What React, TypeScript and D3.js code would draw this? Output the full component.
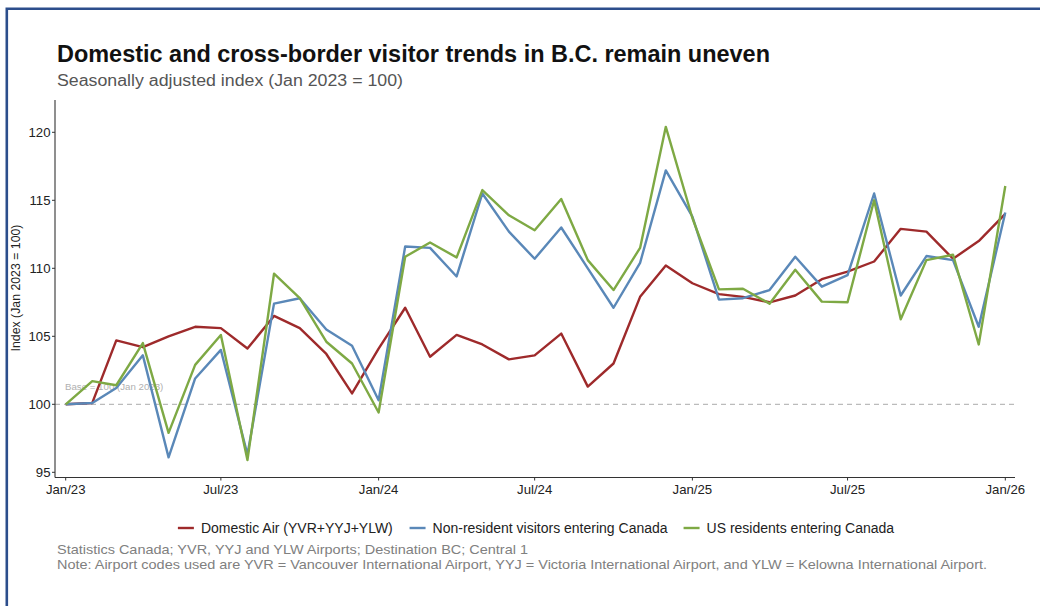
import React from "react";
import * as d3 from "d3";

const months: string[] = [
  "2023-01","2023-02","2023-03","2023-04","2023-05","2023-06","2023-07","2023-08","2023-09","2023-10","2023-11","2023-12",
  "2024-01","2024-02","2024-03","2024-04","2024-05","2024-06","2024-07","2024-08","2024-09","2024-10","2024-11","2024-12",
  "2025-01","2025-02","2025-03","2025-04","2025-05","2025-06","2025-07","2025-08","2025-09","2025-10","2025-11","2025-12",
  "2026-01",
];

const domesticAir: number[] = [
  100, 100.1, 104.7, 104.2, 105.0, 105.7, 105.6, 104.1, 106.5, 105.6, 103.7, 100.8,
  104.1, 107.1, 103.5, 105.1, 104.4, 103.3, 103.6, 105.2, 101.3, 103.0, 107.9, 110.2,
  108.9, 108.1, 107.9, 107.5, 108.0, 109.2, 109.75, 110.5, 112.9, 112.7, 110.7, 112.0,
  114.0,
];

const nonResident: number[] = [
  100, 100.1, 101.2, 103.6, 96.1, 101.9, 104.0, 96.3, 107.4, 107.8, 105.5, 104.3,
  100.3, 111.6, 111.5, 109.4, 115.5, 112.7, 110.7, 113.0, 110.0, 107.1, 110.4, 117.2,
  113.8, 107.7, 107.8, 108.4, 110.85, 108.65, 109.5, 115.5, 108.0, 110.9, 110.6, 105.7,
  114.1,
];

const usResidents: number[] = [
  100, 101.7, 101.4, 104.5, 97.9, 102.9, 105.1, 95.9, 109.6, 107.8, 104.6, 103.0,
  99.4, 110.85, 111.9, 110.8, 115.75, 113.9, 112.8, 115.1, 110.6, 108.4, 111.5, 120.4,
  113.7, 108.45, 108.5, 107.4, 109.9, 107.55, 107.5, 115.0, 106.25, 110.6, 111.0, 104.4,
  116.05,
];

const seriesNames: string[] = [
  "Domestic Air (YVR+YYJ+YLW)",
  "Non-resident visitors entering Canada",
  "US residents entering Canada",
];
const seriesColors: string[] = ["#9e2a2b", "#5a88b8", "#7ea944"];

const yTicks: number[] = [95, 100, 105, 110, 115, 120];
const xTickMonths: string[] = ["2023-01", "2023-07", "2024-01", "2024-07", "2025-01", "2025-07", "2026-01"];

const titleText = "Domestic and cross-border visitor trends in B.C. remain uneven";
const subtitleText = "Seasonally adjusted index (Jan 2023 = 100)";
const sourceLines: string[] = [
  "Statistics Canada; YVR, YYJ and YLW Airports; Destination BC; Central 1",
  "Note: Airport codes used are YVR = Vancouver International Airport, YYJ = Victoria International Airport, and YLW = Kelowna International Airport.",
];
const annotationText = "Base = 100 (Jan 2023)";

const FONT = "'Liberation Sans', Arial, Helvetica, sans-serif";

function measure(text: string, size: number, weight = "normal"): number {
  if (typeof document === "undefined") return text.length * size * 0.5;
  const c = document.createElement("canvas");
  const ctx = c.getContext("2d");
  if (!ctx) return text.length * size * 0.5;
  ctx.font = `${weight} ${size}px 'Liberation Sans', Arial, sans-serif`;
  return ctx.measureText(text).width;
}

export default function App() {
  const W = 1040, H = 606;
  const parse = d3.timeParse("%Y-%m");
  const dates = months.map((m) => parse(m) as Date);

  const x = d3.scaleTime()
    .domain([dates[0], dates[dates.length - 1]])
    .range([65.7, 1005.3]);
  const y = d3.scaleLinear().domain([100, 120]).range([404.3, 132.3]);

  const fmt = d3.timeFormat("%b/%y");
  const line = d3.line<number>()
    .x((_, i) => x(dates[i]))
    .y((v) => y(v));

  const allSeries = [domesticAir, nonResident, usResidents];

  const axisLeft = 55, axisRight = 1015, axisTop = 100, axisBottom = 477.5;

  const legendFont = 14;
  const keyW = 16, keyGap = 7, itemGap = 16;
  const legendY = 528;

  return (
    <svg width={W} height={H} style={{ display: "block", position: "absolute", left: 0, top: 0 }} fontFamily={FONT}>
      <rect x={0} y={0} width={W} height={H} fill="#ffffff" />
      {/* frame */}
      <path d={`M6.8,${H + 5} L6.8,8.8 L${W + 5},8.8`} fill="none" stroke="#2c4e8c" strokeWidth={2.6} />

      {/* titles */}
      <text x={57} y={62} fontSize={23.5} fontWeight="bold" fill="#111" textLength={713} lengthAdjust="spacingAndGlyphs">
        {titleText}
      </text>
      <text x={57} y={86} fontSize={16} fill="#555" textLength={346} lengthAdjust="spacingAndGlyphs">
        {subtitleText}
      </text>

      {/* baseline dashed */}
      <line x1={axisLeft} x2={axisRight} y1={y(100)} y2={y(100)} stroke="#aaaaaa" strokeWidth={1} strokeDasharray="5,4" />
      <text x={65} y={389.5} fontSize={9.7} fill="#b0b0b0">{annotationText}</text>

      {/* series lines */}
      {allSeries.map((s, i) => (
        <path key={i} d={line(s) || ""} fill="none" stroke={seriesColors[i]} strokeWidth={2.4} strokeLinejoin="round" strokeLinecap="butt" />
      ))}

      {/* axes */}
      <line x1={axisLeft} x2={axisLeft} y1={axisTop} y2={axisBottom} stroke="#333" strokeWidth={1.1} />
      <line x1={axisLeft} x2={axisRight} y1={axisBottom} y2={axisBottom} stroke="#333" strokeWidth={1.1} />
      {yTicks.map((t) => (
        <g key={t}>
          <line x1={axisLeft - 3} x2={axisLeft} y1={y(t)} y2={y(t)} stroke="#333" strokeWidth={1} />
          <text x={axisLeft - 4.5} y={y(t)} dy="0.36em" textAnchor="end" fontSize={13.2} fill="#222">{t}</text>
        </g>
      ))}
      {xTickMonths.map((m) => {
        const d = parse(m) as Date;
        return (
          <g key={m}>
            <line x1={x(d)} x2={x(d)} y1={axisBottom} y2={axisBottom + 3} stroke="#333" strokeWidth={1} />
            <text x={x(d)} y={494} textAnchor="middle" fontSize={13.2} fill="#222">{fmt(d)}</text>
          </g>
        );
      })}
      <text transform={`translate(19.5,288) rotate(-90)`} textAnchor="middle" fontSize={12.3} fill="#222">
        Index (Jan 2023 = 100)
      </text>

      {/* legend */}
      {(() => {
        const widths = seriesNames.map((n) => keyW + keyGap + measure(n, legendFont));
        const total = d3.sum(widths) + itemGap * (seriesNames.length - 1);
        let cx = 536 - total / 2;
        return seriesNames.map((n, i) => {
          const x0 = cx;
          cx += widths[i] + itemGap;
          return (
            <g key={n}>
              <line x1={x0} x2={x0 + keyW} y1={legendY} y2={legendY} stroke={seriesColors[i]} strokeWidth={2.4} />
              <text x={x0 + keyW + keyGap} y={legendY} dy="0.36em" fontSize={legendFont} fill="#222">{n}</text>
            </g>
          );
        });
      })()}

      {/* source */}
      <text x={57} y={553.5} fontSize={13} fill="#808080" textLength={471} lengthAdjust="spacingAndGlyphs">
        {sourceLines[0]}
      </text>
      <text x={57} y={569} fontSize={13} fill="#808080" textLength={930} lengthAdjust="spacingAndGlyphs">
        {sourceLines[1]}
      </text>
    </svg>
  );
}
